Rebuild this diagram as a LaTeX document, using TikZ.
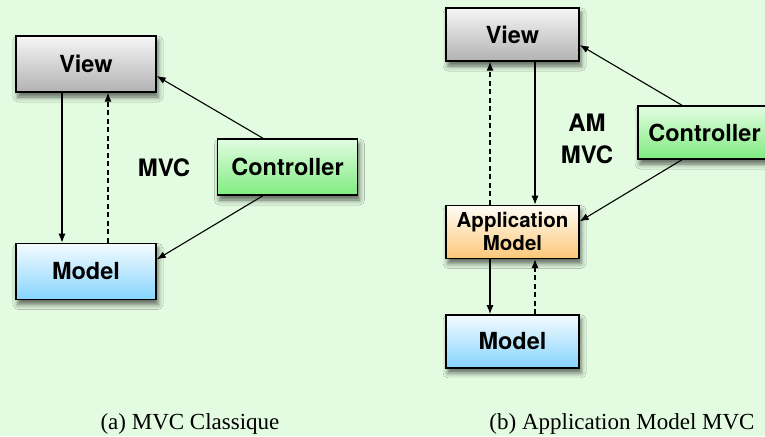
\documentclass[tikz,border=0pt]{standalone}
\usepackage{fontspec}
\setmainfont{Liberation Serif}
\setsansfont{TeX Gyre Heros}
\usepackage{xcolor}
\usepackage{tikz}
\usetikzlibrary{arrows.meta, positioning, shadows.blur}
\definecolor{bgcol}{HTML}{E3FBE1}
\definecolor{viewtop}{HTML}{F6F6F6}
\definecolor{viewbot}{HTML}{B2B2B2}
\definecolor{modeltop}{HTML}{F4FBFF}
\definecolor{modelbot}{HTML}{86D4FD}
\definecolor{ctrltop}{HTML}{E2FCE2}
\definecolor{ctrlbot}{HTML}{80EC80}
\definecolor{apptop}{HTML}{FFFCF6}
\definecolor{appbot}{HTML}{FCC878}

\begin{document}
\begin{tikzpicture}[x=1pt, y=-1pt,
    box/.style={rectangle, draw=black, line width=1.4pt, inner sep=2pt,
                minimum width=140pt, minimum height=56pt,
                font=\sffamily\bfseries\fontsize{23.5}{27}\selectfont,
                blur shadow={shadow xshift=2pt, shadow yshift=-5pt,
                             shadow blur radius=5pt, shadow opacity=60}},
    boxb/.style={box, minimum width=133pt, minimum height=53pt},
    viewfill/.style={top color=viewtop, bottom color=viewbot},
    modelfill/.style={top color=modeltop, bottom color=modelbot},
    ctrlfill/.style={top color=ctrltop, bottom color=ctrlbot},
    appfill/.style={top color=apptop, bottom color=appbot},
    arr/.style={-{Latex[length=9pt, width=7pt]}, line width=1.1pt},
    dsh/.style={arr, dash pattern=on 5pt off 3.5pt},
    lbl/.style={font=\sffamily\bfseries\fontsize{24}{32}\selectfont, align=center},
    captxt/.style={anchor=base, font=\fontsize{23}{27}\selectfont},
]
    \fill[bgcol] (0,0) rectangle (765,436);
    \useasboundingbox (0,0) rectangle (765,436);

    % (a) MVC Classique
    \node[box, viewfill] (viewA) at (86,64) {View};
    \node[box, modelfill, below=150pt of viewA] (modelA) {Model};
    \node[box, ctrlfill] (ctrlA) at (287.5,167) {Controller};
    \node[lbl] (lblA) at (164,168) {MVC};

    \draw[arr] ([xshift=-24pt]viewA.south) -- ([xshift=-24pt]modelA.north);
    \draw[dsh] ([xshift=22pt]modelA.north) -- ([xshift=22pt]viewA.south);
    \draw[arr] ([xshift=-24.5pt]ctrlA.north) -- ([yshift=-12pt]viewA.east);
    \draw[arr] ([xshift=-24.5pt]ctrlA.south) -- ([yshift=12pt]modelA.east);

    % (b) Application Model MVC
    \node[boxb, viewfill] (viewB) at (512.5,34.5) {View};
    \node[boxb, appfill, below=143pt of viewB, align=center,
          font=\sffamily\bfseries\fontsize{20.5}{23}\selectfont] (appB) {Application\\Model};
    \node[boxb, modelfill, below=55pt of appB] (modelB) {Model};
    \node[boxb, ctrlfill] (ctrlB) at (704.5,132.5) {Controller};
    \node[lbl] (lblB) at (587,139) {AM\\MVC};

    \draw[dsh] ([xshift=-22.5pt]appB.north) -- ([xshift=-22.5pt]viewB.south);
    \draw[arr] ([xshift=22.5pt]viewB.south) -- ([xshift=22.5pt]appB.north);
    \draw[arr] ([xshift=-22.5pt]appB.south) -- ([xshift=-22.5pt]modelB.north);
    \draw[dsh] ([xshift=22.5pt]modelB.north) -- ([xshift=22.5pt]appB.south);
    \draw[arr] ([xshift=-22.5pt]ctrlB.north) -- ([yshift=-10.5pt]viewB.east);
    \draw[arr] ([xshift=-22.5pt]ctrlB.south) -- ([yshift=10.5pt]appB.east);

    % captions
    \node[captxt] (capA) at (190,429) {(a) MVC Classique};
    \node[captxt] (capB) at (622,429) {(b) Application Model MVC};
\end{tikzpicture}
\end{document}
